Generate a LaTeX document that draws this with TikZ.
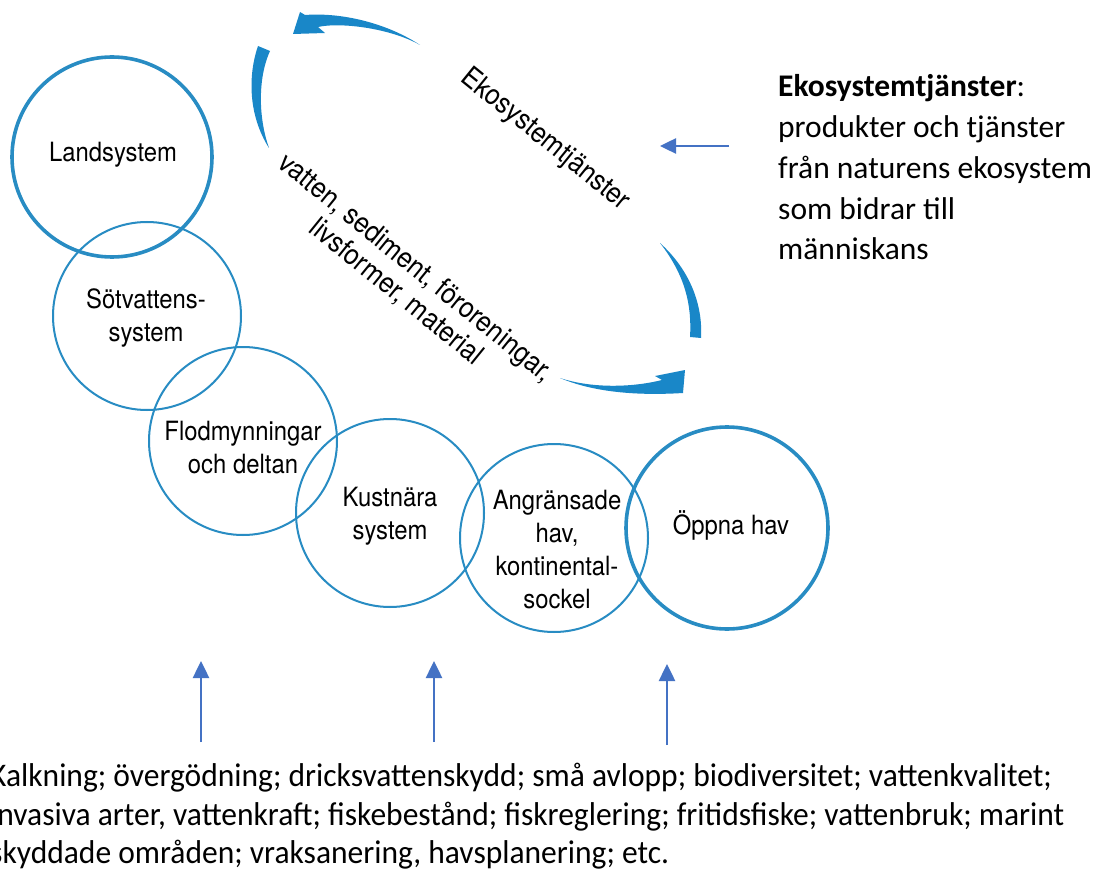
\documentclass[tikz,border=0pt]{standalone}
\usepackage{fontspec}
\setmainfont{Carlito}
\newfontfamily\helv[FakeStretch=0.9]{TeX Gyre Heros}
\newfontfamily\bodyc[FakeStretch=0.955]{Carlito}
\usetikzlibrary{arrows.meta}
\definecolor{swoosh}{RGB}{25,135,200}
\definecolor{ringc}{RGB}{40,140,195}
\definecolor{office}{RGB}{68,114,196}
\tikzset{
  ringthin/.style={circle, draw=ringc, line width=2pt, inner sep=0pt},
  ringthick/.style={circle, draw=ringc, line width=3.6pt, inner sep=0pt},
  clabel/.style={font=\helv\fontsize{26.5}{33}\selectfont, align=center, inner sep=0pt},
  rlabel/.style={font=\helv\fontsize{28.5}{31}\selectfont, align=center, inner sep=0pt, rotate=-39},
  upline/.style={draw=office, line width=2.5pt, -{Triangle[length=17pt,width=16pt]}},
  leftline/.style={draw=office, line width=2.5pt, -{Triangle[length=16pt,width=15pt]}},
  bodytext/.style={font=\fontsize{31.5}{41}\selectfont, inner sep=0pt, anchor=base west},
  bottomtext/.style={font=\bodyc\fontsize{33}{38.5}\selectfont, inner sep=0pt, anchor=base west}
}
\begin{document}
\begin{tikzpicture}[x=1pt,y=-1pt]
\useasboundingbox[fill=white] (0,0) rectangle (1100,877);

% circles
\node[ringthick, minimum size=200pt] (land) at (112,157) {};
\node[ringthin, minimum size=188pt] (sot) at (147,316) {};
\node[ringthin, minimum size=188pt] (flod) at (243,441) {};
\node[ringthin, minimum size=188pt] (kust) at (390,513) {};
\node[ringthin, minimum size=188pt] (angr) at (554,538) {};
\node[ringthick, minimum size=202pt] (oppna) at (727,528) {};

% circle labels
\node[clabel] (tland) at (113,155) {Landsystem};
\node[clabel] (tsot) at (146,318) {Sötvattens-\\system};
\node[clabel] (tflod) at (243,448) {Flodmynningar\\och deltan};
\node[clabel] (tkust) at (390,516) {Kustnära\\system};
\node[clabel] (tangr) at (557,550) {Angränsade\\hav,\\kontinental-\\sockel};
\node[clabel] (toppna) at (731,525) {Öppna hav};

% rotated labels
\node[rlabel] (teko) at (545,140) {Ekosystemtjänster};
\node[rlabel] (tflow) at (406,280) {vatten, sediment, föroreningar,\\livsformer, material};

% swooshes
\fill[swoosh] (420,45) .. controls (390,25) and (345,12) .. (305,15)
  -- (300,12) -- (293,34) -- (325,33) -- (318,27)
  .. controls (340,22) and (390,28) .. (420,45) -- cycle;
\fill[swoosh] (258,46) .. controls (248,75) and (248,115) .. (269,148)
  .. controls (259,120) and (257,80) .. (270,51) -- cycle;
\fill[swoosh] (660,243) .. controls (690,270) and (703,305) .. (701,338)
  -- (690,337) .. controls (692,305) and (685,275) .. (660,243) -- cycle;
\fill[swoosh] (560,378) .. controls (590,388) and (630,388) .. (662,380)
  -- (655,376) -- (685,370) -- (683,393)
  .. controls (650,395) and (600,395) .. (560,378) -- cycle;

% blue arrows
\coordinate (la1) at (729,146);
\coordinate (la2) at (660,146);
\draw[leftline] (la1) -- (la2);
\coordinate (u1s) at (201,742);
\coordinate (u1e) at (201,661);
\coordinate (u2s) at (434,742);
\coordinate (u2e) at (434,661);
\coordinate (u3s) at (667,745);
\coordinate (u3e) at (667,664);
\draw[upline] (u1s) -- (u1e);
\draw[upline] (u2s) -- (u2e);
\draw[upline] (u3s) -- (u3e);

% right text
\node[bodytext] (r1) at (778,97) {\textbf{Ekosystemtjänster}:};
\node[bodytext] (r2) at (778,138) {produkter och tjänster};
\node[bodytext] (r3) at (778,179) {från naturens ekosystem};
\node[bodytext] (r4) at (778,220) {som bidrar till};
\node[bodytext] (r5) at (778,260) {människans};

% bottom text
\node[bottomtext] (b1) at (-10,786) {Kalkning; övergödning; dricksvattenskydd; små avlopp; biodiversitet; vattenkvalitet;};
\node[bottomtext] (b2) at (-10,825) {invasiva arter, vattenkraft; fiskebestånd; fiskreglering; fritidsfiske; vattenbruk; marint};
\node[bottomtext] (b3) at (-10,863) {skyddade områden; vraksanering, havsplanering; etc.};
\end{tikzpicture}
\end{document}
